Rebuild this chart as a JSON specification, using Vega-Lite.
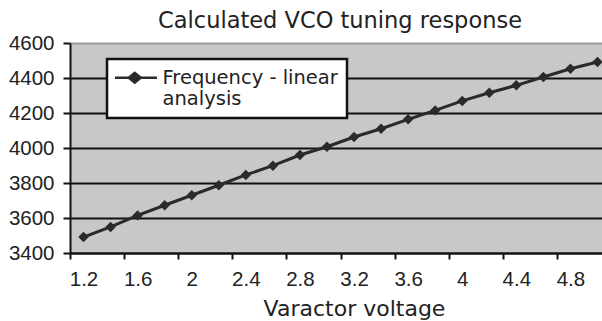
{
  "$schema": "https://vega.github.io/schema/vega-lite/v6.json",
  "width": 532,
  "height": 210,
  "autosize": "none",
  "padding": {"left": 70, "top": 43, "right": 0, "bottom": 68},
  "background": "white",
  "config": {
    "view": {"fill": "#c8c8c8", "stroke": null},
    "font": "Liberation Sans",
    "legend": {"strokeWidth": 2.5}
  },
  "title": {
    "text": "Calculated VCO tuning response",
    "font": "DejaVu Sans",
    "fontSize": 22.5,
    "fontWeight": "normal",
    "color": "#222",
    "offset": 1,
    "dx": 4
  },
  "data": {
    "values": [
      {"v": 1.2, "f": 3491, "series": "Frequency - linear analysis"},
      {"v": 1.4, "f": 3549, "series": "Frequency - linear analysis"},
      {"v": 1.6, "f": 3615, "series": "Frequency - linear analysis"},
      {"v": 1.8, "f": 3673, "series": "Frequency - linear analysis"},
      {"v": 2.0, "f": 3730, "series": "Frequency - linear analysis"},
      {"v": 2.2, "f": 3787, "series": "Frequency - linear analysis"},
      {"v": 2.4, "f": 3846, "series": "Frequency - linear analysis"},
      {"v": 2.6, "f": 3899, "series": "Frequency - linear analysis"},
      {"v": 2.8, "f": 3960, "series": "Frequency - linear analysis"},
      {"v": 3.0, "f": 4007, "series": "Frequency - linear analysis"},
      {"v": 3.2, "f": 4063, "series": "Frequency - linear analysis"},
      {"v": 3.4, "f": 4110, "series": "Frequency - linear analysis"},
      {"v": 3.6, "f": 4164, "series": "Frequency - linear analysis"},
      {"v": 3.8, "f": 4215, "series": "Frequency - linear analysis"},
      {"v": 4.0, "f": 4269, "series": "Frequency - linear analysis"},
      {"v": 4.2, "f": 4316, "series": "Frequency - linear analysis"},
      {"v": 4.4, "f": 4358, "series": "Frequency - linear analysis"},
      {"v": 4.6, "f": 4406, "series": "Frequency - linear analysis"},
      {"v": 4.8, "f": 4453, "series": "Frequency - linear analysis"},
      {"v": 5.0, "f": 4491, "series": "Frequency - linear analysis"}
    ]
  },
  "encoding": {
    "x": {
      "field": "v",
      "type": "quantitative",
      "scale": {"domain": [1.1, 5.0333], "nice": false, "zero": false},
      "axis": {
        "values": [1.1, 1.2, 1.5, 1.6, 1.9, 2.0, 2.3, 2.4, 2.7, 2.8, 3.1, 3.2, 3.5, 3.6, 3.9, 4.0, 4.3, 4.4, 4.7, 4.8],
        "labelExpr": "round(datum.value*10)%4==0 ? format(datum.value, '~g') : ''",
        "tickOpacity": {"condition": {"test": "round(datum.value*10)%4==0", "value": 0}, "value": 1},
        "grid": false,
        "tickSize": 6,
        "tickWidth": 2,
        "tickColor": "#111",
        "domainColor": "#111",
        "domainWidth": 2,
        "labelFontSize": 20.5,
        "labelColor": "#222",
        "labelPadding": 10,
        "labelFlush": false,
        "labelOverlap": false,
        "title": "Varactor voltage",
        "titleFont": "DejaVu Sans",
        "titleFontSize": 22,
        "titleFontWeight": "normal",
        "titleColor": "#222",
        "titleX": 284,
        "titleY": 45
      }
    },
    "y": {
      "field": "f",
      "type": "quantitative",
      "scale": {"domain": [3400, 4600], "nice": false, "zero": false},
      "axis": {
        "values": [3400, 3600, 3800, 4000, 4200, 4400, 4600],
        "format": "d",
        "title": null,
        "tickSize": 7,
        "tickWidth": 2,
        "tickColor": "#111",
        "domainColor": "#111",
        "domainWidth": 2,
        "labelFontSize": 20.5,
        "labelColor": "#222",
        "labelPadding": 9,
        "gridColor": {"condition": {"test": "datum.value==4600", "value": "#9a9a9a"}, "value": "#111"},
        "gridWidth": 2
      }
    }
  },
  "layer": [
    {
      "mark": {"type": "line", "strokeWidth": 3},
      "encoding": {
        "color": {
          "field": "series",
          "type": "nominal",
          "scale": {"range": ["#2a2a2a"]},
          "legend": {
            "title": null,
            "orient": "none",
            "legendX": 37,
            "legendY": 16,
            "fillColor": "white",
            "strokeColor": "#111",
            "padding": 9,
            "labelFont": "DejaVu Sans",
            "labelFontSize": 19.5,
            "labelColor": "#222",
            "labelLimit": 400,
            "labelOffset": 27,
            "labelExpr": "['Frequency - linear', 'analysis']",
            "symbolType": "M-1.8,0L5.2,0M0.5,0L1.5,-0.83L2.5,0L1.5,0.83Z",
            "symbolSize": 144,
            "symbolStrokeWidth": 2.5,
            "symbolFillColor": "#2a2a2a",
            "symbolStrokeColor": "#2a2a2a"
          }
        }
      }
    },
    {
      "mark": {"type": "point", "shape": "diamond", "filled": true, "size": 110, "opacity": 1},
      "encoding": {
        "color": {"field": "series", "type": "nominal"}
      }
    }
  ]
}
